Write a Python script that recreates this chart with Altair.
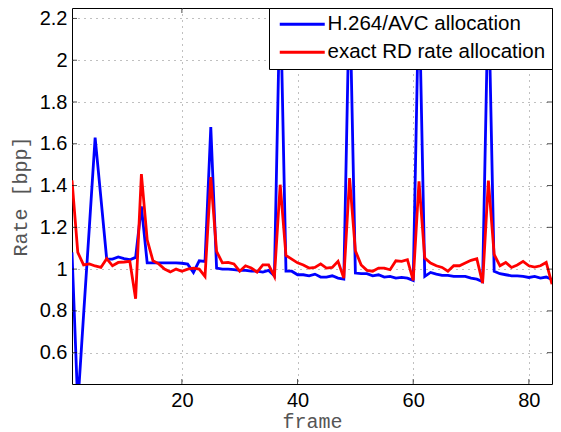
import altair as alt
import pandas as pd

frames = list(range(1, 85))

h264 = [1.08, 0.35, 0.78, 1.20, 1.63, 1.34, 1.048, 1.048, 1.058, 1.05,
        1.045, 1.056, 1.30, 1.03, 1.03, 1.03, 1.03, 1.03, 1.03, 1.028,
        1.024, 0.984, 1.04, 1.037, 1.68, 1.005, 1.0, 1.0, 0.998, 0.994,
        0.994, 0.99, 0.99, 0.986, 0.994, 0.968, 2.35, 0.99, 0.99, 0.973,
        0.973, 0.968, 0.976, 0.962, 0.962, 0.968, 0.957, 0.952, 2.35, 0.981,
        0.978, 0.978, 0.968, 0.973, 0.962, 0.965, 0.957, 0.96, 0.957, 0.946,
        2.35, 0.965, 0.984, 0.976, 0.97, 0.97, 0.965, 0.965, 0.965, 0.957,
        0.952, 0.94, 2.35, 0.99, 0.978, 0.973, 0.968, 0.968, 0.965, 0.96,
        0.965, 0.957, 0.962, 0.95]

exact_rd = [1.425, 1.08, 1.02, 1.025, 1.015, 1.008, 1.05, 1.016, 1.032, 1.034,
            1.037, 0.858, 1.455, 1.14, 1.04, 1.025, 1.0, 0.986, 1.0, 0.99,
            1.0, 1.005, 1.0, 0.965, 1.44, 1.085, 1.03, 1.032, 1.025, 0.99,
            1.016, 1.005, 0.986, 1.02, 1.02, 0.965, 1.404, 1.065, 1.048, 1.03,
            1.02, 1.005, 1.008, 1.025, 1.005, 1.008, 1.037, 0.957, 1.436, 1.088,
            1.02, 0.994, 0.99, 1.005, 1.005, 0.997, 1.04, 1.037, 1.045, 0.946,
            1.42, 1.053, 1.029, 1.016, 1.008, 0.99, 1.016, 1.016, 1.029, 1.042,
            1.05, 0.933, 1.424, 1.07, 1.016, 1.032, 1.008, 1.02, 1.037, 1.016,
            1.01, 1.016, 1.032, 0.928]

series_names = ["H.264/AVC allocation", "exact RD rate allocation"]
series_colors = ["#0000ff", "#ff0000"]

x_domain = [1, 84]
y_domain = [0.45, 2.25]
x_ticks = [20, 40, 60, 80]
y_ticks = [0.6, 0.8, 1.0, 1.2, 1.4, 1.6, 1.8, 2.0, 2.2]

df_blue = pd.DataFrame({"frame": frames, "rate": h264, "series": series_names[0]})
df_red = pd.DataFrame({"frame": frames, "rate": exact_rd, "series": series_names[1]})

xt_df = pd.DataFrame([{"frame": t, "rate": e} for t in x_ticks for e in y_domain])
yt_df = pd.DataFrame([{"frame": e, "rate": t} for t in y_ticks for e in x_domain])

xs = alt.Scale(domain=x_domain, nice=False, zero=False)
ys = alt.Scale(domain=y_domain, nice=False, zero=False)

X = alt.X("frame:Q", scale=xs,
          axis=alt.Axis(values=x_ticks, title="frame", labelPadding=6, titlePadding=1))
Y = alt.Y("rate:Q", scale=ys,
          axis=alt.Axis(values=y_ticks, format="~g", title="Rate [bpp]", labelPadding=5, titlePadding=9))

# wide horizontal stroke drawn inside a small symbol box, so rows stay compact
legend_line = "M-4.5,0H4.5"

color = alt.Color(
    "series:N",
    scale=alt.Scale(domain=series_names, range=series_colors),
    title=None,
    legend=alt.Legend(
        orient="top-right", offset=0, padding=6, symbolOffset=17,
        symbolType=legend_line, symbolSize=100, symbolStrokeWidth=3,
        symbolFillColor="transparent",
        labelFont="Liberation Sans", labelFontSize=20.5, labelColor="black",
        labelOffset=15, rowPadding=7, strokeColor="black", fillColor="white",
        cornerRadius=0, zindex=1, labelLimit=400,
    ),
)

blue = alt.Chart(df_blue).mark_line(strokeWidth=2.8, clip=True).encode(x=X, y=Y, color=color)
red = alt.Chart(df_red).mark_line(strokeWidth=2.8, clip=True).encode(x=X, y=Y, color=color)

xt = alt.Chart(xt_df).mark_tick(orient="vertical", size=10, thickness=1, color="black", clip=True).encode(x=X, y=Y)
yt = alt.Chart(yt_df).mark_tick(orient="horizontal", size=10, thickness=1, color="black", clip=True).encode(x=X, y=Y)

chart = alt.layer(blue, red, xt, yt).properties(
    width=480, height=376,
    autosize=alt.AutoSizeParams(type="none"),
    padding={"left": 64, "top": 0, "right": 1, "bottom": 48},
).configure_view(
    stroke="black", strokeWidth=1
).configure_axis(
    grid=True, gridColor="#808080", gridDash=[1, 5], gridWidth=1, gridOpacity=1,
    ticks=False, domain=False,
    labelFont="Liberation Sans", labelFontSize=20, labelColor="black",
    titleFont="Liberation Mono", titleFontSize=20, titleFontWeight="normal", titleColor="#555555",
)

chart.save("out.html", embed_options={"renderer": "svg", "actions": False})
